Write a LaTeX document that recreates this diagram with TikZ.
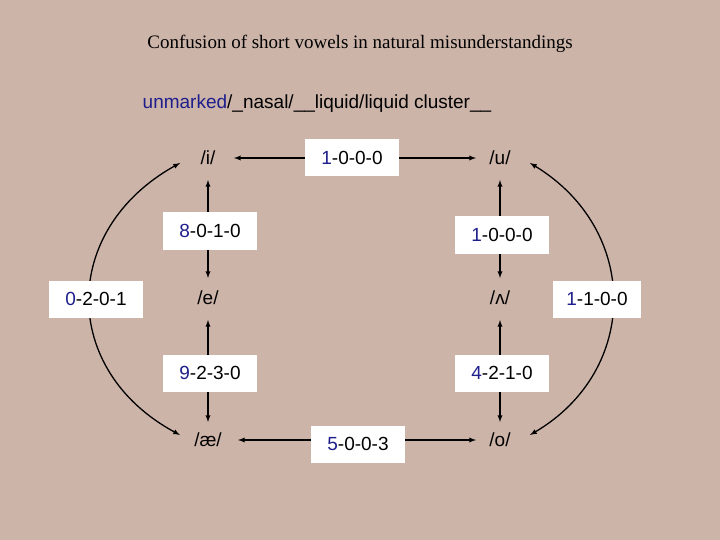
\documentclass[tikz,border=0pt]{standalone}
\usepackage{fontspec}
\setmainfont{Liberation Serif}
\newfontfamily\arial{Liberation Sans}
\definecolor{bg}{RGB}{205,180,169}
\definecolor{nv}{RGB}{30,30,140}
\begin{document}
\begin{tikzpicture}[x=1pt,y=-1pt,
 vw/.style={font=\arial\fontsize{19}{22}\selectfont},
 lb/.style={font=\arial\fontsize{19}{22}\selectfont,fill=white,minimum width=94pt,minimum height=37pt,inner sep=0pt},
 ar/.style={thick,line width=1.3pt}]
\fill[bg] (0,0) rectangle (720,540);
\useasboundingbox (0,0) rectangle (720,540);
\node[font=\fontsize{19}{22}\selectfont] (t) at (360,44) {Confusion of short vowels in natural misunderstandings};
\node[font=\arial\fontsize{19}{22}\selectfont] (s) at (317,104) {\textcolor{nv}{unmarked}/\_nasal/\_\_liquid/liquid cluster\_\_};
\node[vw] (i) at (208,158) {/i/};
\node[vw] (u) at (500,158) {/u/};
\node[vw] (e) at (208,298) {/e/};
\node[vw] (v) at (500,298) {/ʌ/};
\node[vw] (ae) at (208,440) {/æ/};
\node[vw] (o) at (500,440) {/o/};
\coordinate (itop) at (208,180); \coordinate (ebot) at (208,278);
\coordinate (e2) at (208,320); \coordinate (aet) at (208,422);
\coordinate (u1) at (500,180); \coordinate (v1) at (500,278);
\coordinate (v2) at (500,320); \coordinate (o1) at (500,422);
\coordinate (ir) at (234,158); \coordinate (ul) at (476,158);
\coordinate (aer) at (238,440); \coordinate (ol) at (476,440);
\coordinate (lc1) at (180,163); \coordinate (lc2) at (180,435);
\coordinate (rc1) at (530,163); \coordinate (rc2) at (530,435);
\draw[ar,latex-latex] (itop) -- (ebot);
\draw[ar,latex-latex] (e2) -- (aet);
\draw[ar,latex-latex] (u1) -- (v1);
\draw[ar,latex-latex] (v2) -- (o1);
\draw[ar,latex-latex] (ir) -- (ul);
\draw[ar,latex-latex] (aer) -- (ol);
\draw[ar,latex-latex] (lc1) .. controls (60,230) and (60,370) .. (lc2);
\draw[ar,latex-latex] (rc1) .. controls (640,230) and (640,370) .. (rc2);
\node[lb] (a) at (352,158) {\textcolor{nv}{1}-0-0-0};
\node[lb] (b) at (210,231) {\textcolor{nv}{8}-0-1-0};
\node[lb] (c) at (502,235) {\textcolor{nv}{1}-0-0-0};
\node[lb] (d) at (96,299) {\textcolor{nv}{0}-2-0-1};
\node[lb,minimum width=88pt] (f) at (597,299) {\textcolor{nv}{1}-1-0-0};
\node[lb] (g) at (210,373) {\textcolor{nv}{9}-2-3-0};
\node[lb] (h) at (502,373) {\textcolor{nv}{4}-2-1-0};
\node[lb] (k) at (358,444) {\textcolor{nv}{5}-0-0-3};
\end{tikzpicture}
\end{document}
